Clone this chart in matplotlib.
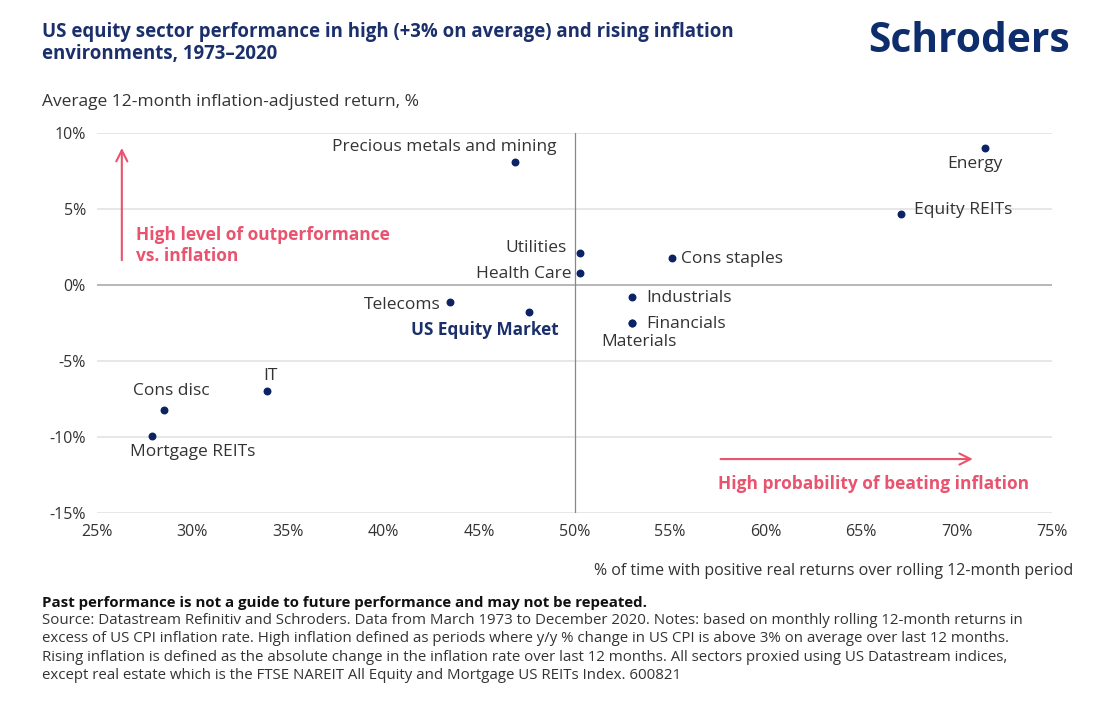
import matplotlib.pyplot as plt

plt.rcParams['font.family'] = ['Open Sans', 'DejaVu Sans']

# Data
sectors = ['Precious metals and mining', 'Energy', 'Equity REITs', 'Utilities', 'Health Care',
           'Cons staples', 'Industrials', 'Financials', 'Materials', 'Telecoms',
           'US Equity Market', 'IT', 'Cons disc', 'Mortgage REITs']
pct_positive = [46.9, 71.5, 67.1, 50.3, 50.3, 55.1, 53.0, 53.0, 53.0, 43.5, 47.6, 33.9, 28.5, 27.9]
avg_return = [8.1, 9.0, 4.7, 2.1, 0.8, 1.8, -0.8, -2.5, -2.5, -1.1, -1.8, -7.0, -8.2, -9.9]

# label offsets in pixels (dx, dy) and alignment
label_pos = {
    'Precious metals and mining': (41, 15, 'right'),
    'Energy': (-10, -16, 'center'),
    'Equity REITs': (13, 4, 'left'),
    'Utilities': (-14, 5, 'right'),
    'Health Care': (-9, -1, 'right'),
    'Cons staples': (9, -1, 'left'),
    'Industrials': (14, -1, 'left'),
    'Financials': (14, -1, 'left'),
    'Materials': (7, -19, 'center'),
    'Telecoms': (-10, -3, 'right'),
    'US Equity Market': (-44, -18, 'center'),
    'IT': (3, 15, 'center'),
    'Cons disc': (7, 19, 'center'),
    'Mortgage REITs': (40, -16, 'center'),
}

x_ticks = [25, 30, 35, 40, 45, 50, 55, 60, 65, 70, 75]
y_ticks = [-15, -10, -5, 0, 5, 10]

navy = '#0b2265'
title_navy = '#1b2f6b'
pink = '#e8546f'
text_grey = '#333333'

fig = plt.figure(figsize=(11.06, 7.02), dpi=100)
ax = fig.add_axes([0.0877, 0.2692, 0.8635, 0.5413])

for y in y_ticks:
    ax.axhline(y, color='#aaaaaa' if y == 0 else '#e3e3e3', lw=1.2, zorder=0)
ax.axvline(50, color='#888888', lw=0.9, zorder=0)

ax.scatter(pct_positive, avg_return, s=22, color=navy, zorder=3)

for name, x, y in zip(sectors, pct_positive, avg_return):
    dx, dy, ha = label_pos[name]
    if name == 'US Equity Market':
        ax.annotate(name, (x, y), xytext=(dx, dy), textcoords='offset pixels',
                    ha=ha, va='center', fontsize=12.3, fontweight='bold', color=title_navy)
    else:
        ax.annotate(name, (x, y), xytext=(dx, dy), textcoords='offset pixels',
                    ha=ha, va='center', fontsize=12.5, color=text_grey)

# pink arrows and notes
ax.annotate('', xy=(26.3, 9.2), xytext=(26.3, 1.45),
            arrowprops=dict(arrowstyle='->', color=pink, lw=1.5, mutation_scale=20))
ax.text(27.05, 2.6, 'High level of outperformance\nvs. inflation', color=pink,
        fontsize=12.5, fontweight='bold', ha='left', va='center', linespacing=1.15)
ax.annotate('', xy=(71.0, -11.45), xytext=(57.5, -11.45),
            arrowprops=dict(arrowstyle='->', color=pink, lw=1.5, mutation_scale=20))
ax.text(57.5, -13.1, 'High probability of beating inflation', color=pink,
        fontsize=12.5, fontweight='bold', ha='left', va='center')

ax.set_xlim(25, 75)
ax.set_ylim(-15, 10)
ax.set_xticks(x_ticks)
ax.set_xticklabels([f'{v}%' for v in x_ticks])
ax.set_yticks(y_ticks)
ax.set_yticklabels([f'{v}%' for v in y_ticks])
ax.tick_params(length=0, labelsize=11.5, labelcolor=text_grey, pad=8)
for s in ax.spines.values():
    s.set_visible(False)

fig.text(0.038, 1 - 43 / 702, 'US equity sector performance in high (+3% on average) and rising inflation\nenvironments, 1973\u20132020',
         fontsize=13.4, fontweight='bold', color=title_navy, ha='left', va='center', linespacing=1.2)
fig.text(1070 / 1106, 1 - 42 / 702, 'Schroders', fontsize=29.3, fontweight='bold', color='#0d2d6c',
         ha='right', va='center')
fig.text(0.038, 1 - 102 / 702, 'Average 12-month inflation-adjusted return, %', fontsize=12.5,
         color=text_grey, ha='left', va='center')
fig.text(1073 / 1106, 1 - 571 / 702, '% of time with positive real returns over rolling 12-month period',
         fontsize=11.5, color=text_grey, ha='right', va='center')

fig.text(0.038, 1 - 603 / 702, 'Past performance is not a guide to future performance and may not be repeated.',
         fontsize=10.8, fontweight='bold', color='#111111', ha='left', va='center')
footnote = ('Source: Datastream Refinitiv and Schroders. Data from March 1973 to December 2020. Notes: based on monthly rolling 12-month returns in\n'
            'excess of US CPI inflation rate. High inflation defined as periods where y/y % change in US CPI is above 3% on average over last 12 months.\n'
            'Rising inflation is defined as the absolute change in the inflation rate over last 12 months. All sectors proxied using US Datastream indices,\n'
            'except real estate which is the FTSE NAREIT All Equity and Mortgage US REITs Index. 600821')
fig.text(0.038, 1 - 613 / 702, footnote, fontsize=10.8, color=text_grey, ha='left', va='top', linespacing=1.3)

fig.savefig('out.png', dpi=100, facecolor='white')
